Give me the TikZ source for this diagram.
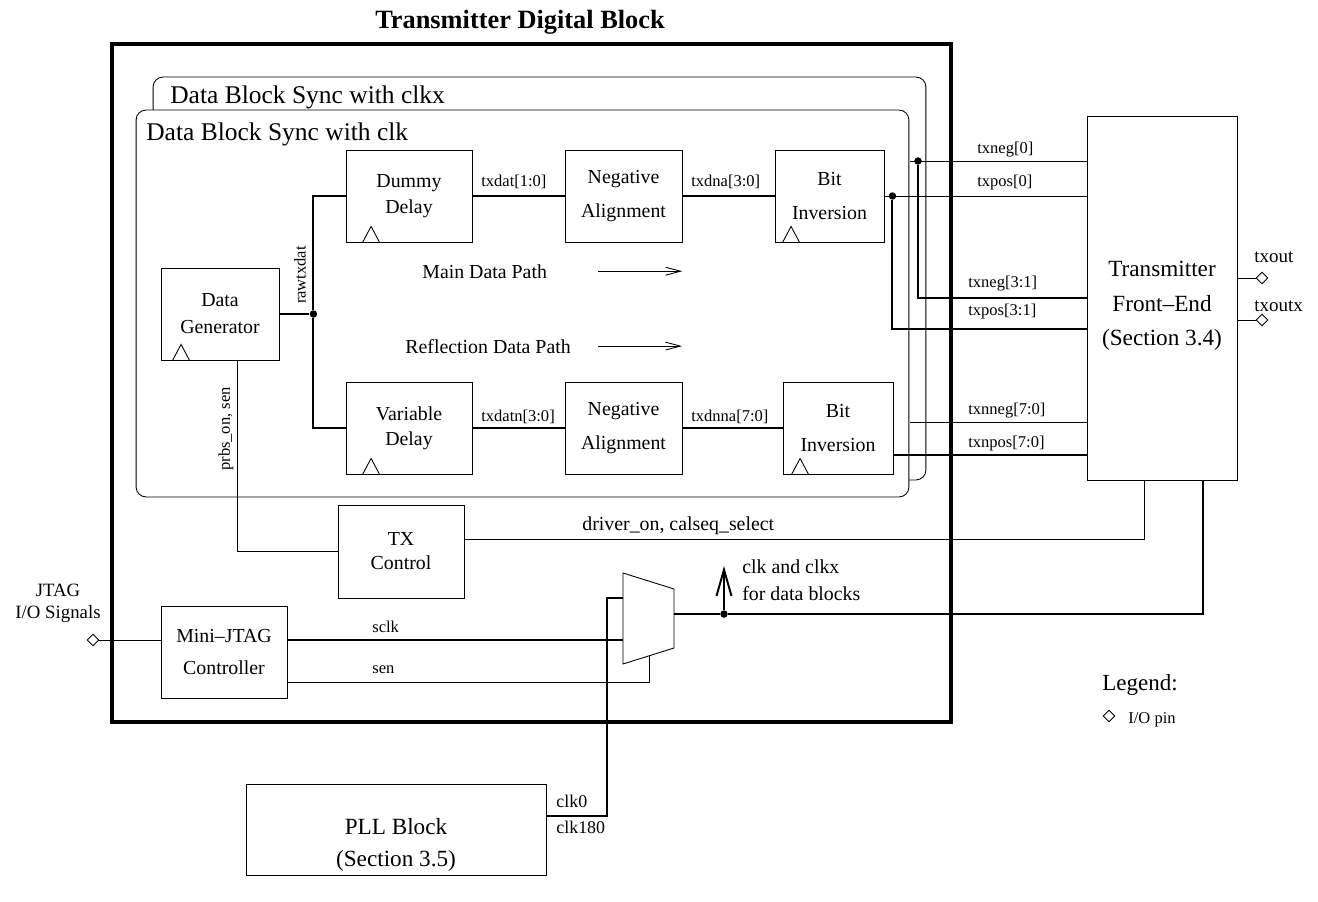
\documentclass[tikz,border=0pt]{standalone}
\usepackage{fontspec}
\setmainfont{Liberation Serif}
\usetikzlibrary{arrows.meta, shapes.geometric}

\begin{document}
\begin{tikzpicture}[x=0.02cm, y=-0.02cm,
  wire/.style={line width=0.5pt},
  bus/.style={line width=1.1pt},
  blk/.style={draw, line width=0.5pt, align=center, inner sep=0pt,
              font=\fontsize{11.3}{#1}\selectfont},
  blk/.default=14.5,
  syncbox/.style={draw, line width=0.5pt, fill=white, rounded corners=0.2cm},
  sig/.style={inner sep=0pt, font=\fontsize{9.4}{11}\selectfont},
  txt/.style={inner sep=0pt, font=\fontsize{11.3}{14}\selectfont},
  dot/.style={circle, fill, inner sep=0pt, minimum size=0.15cm},
  pin/.style={diamond, draw, line width=0.5pt, inner sep=0pt, minimum size=0.24cm},
  flow/.style={wire, -{Straight Barb[length=8.5pt, width=4.5pt]}}]
\useasboundingbox (0,0) rectangle (1318,902);

\node[anchor=base, inner sep=0pt, font=\fontsize{15}{18}\selectfont\bfseries]
      (title) at (520,29) {Transmitter Digital Block};
\node[draw, line width=2pt, minimum width=16.78cm, minimum height=13.56cm]
      (digital) at (531.5,383) {};

% clock domains
\node[syncbox, minimum width=15.46cm, minimum height=8.06cm] (clkxbox) at (539.5,278.5) {};
\node[anchor=base west, inner sep=0pt, font=\fontsize{14.5}{17}\selectfont]
      (clkxlbl) at (170,104) {Data Block Sync with clkx};
\node[syncbox, minimum width=15.46cm, minimum height=7.74cm] (clkbox) at (522.5,303.5) {};
\node[anchor=base west, inner sep=0pt, font=\fontsize{14.5}{17}\selectfont]
      (clklbl) at (146,141) {Data Block Sync with clk};

% blocks
\node[blk, minimum width=2.52cm, minimum height=1.84cm] (dd) at (409,196) {Dummy\\Delay};
\node[blk=19, minimum width=2.34cm, minimum height=1.84cm] (na1) at (623.5,196) {Negative\\Alignment};
\node[blk=19, minimum width=2.18cm, minimum height=1.84cm] (bi1) at (829.5,196) {Bit\\Inversion};
\node[blk=15.3, minimum width=2.36cm, minimum height=1.84cm] (dg) at (220,314) {Data\\Generator};
\node[blk, minimum width=2.52cm, minimum height=1.84cm] (vd) at (409,428) {Variable\\Delay};
\node[blk=19, minimum width=2.34cm, minimum height=1.84cm] (na2) at (623.5,428) {Negative\\Alignment};
\node[blk=19, minimum width=2.2cm, minimum height=1.84cm] (bi2) at (838,428) {Bit\\Inversion};
\node[blk=13.6, minimum width=2.52cm, minimum height=1.86cm] (txc) at (401,551.5) {TX\\Control};
\node[blk=18.7, minimum width=2.52cm, minimum height=1.84cm] (mj) at (224,652) {Mini--JTAG\\Controller};
\node[blk, minimum width=3cm, minimum height=7.28cm] (fe) at (1162,298) {};
\node[txt, align=center, font=\fontsize{13.2}{19.8}\selectfont] (fetext) at (1162,306)
      {Transmitter\\Front--End\\(Section 3.4)};
\node[blk, minimum width=6cm, minimum height=1.82cm] (pll) at (396,829.5) {};
\node[txt, align=center, font=\fontsize{13.2}{18}\selectfont] (plltext) at (396,845)
      {PLL Block\\(Section 3.5)};

\foreach \b/\o in {dd/17, bi1/8, dg/12, vd/17, bi2/9}
  \draw[wire] ([xshift=\o*0.02cm]\b.south west) -- ++(8.5,-16) -- ++(8.5,16);

% data paths
\node[dot] (rj) at ([xshift=0.68cm]dg.east) {};
\draw[bus] (dg.east) -- (rj);
\draw[bus] (dd.west) -| (rj) |- (vd.west);
\node[sig, rotate=90] (rawlbl) at (300,275) {rawtxdat};
\draw[bus] (dd) -- (na1);
\draw[bus] (na1) -- (bi1);
\draw[bus] (vd) -- (na2);
\draw[bus] (na2) -- (bi2);
\node[sig, anchor=base west] at (481,187) {txdat[1:0]};
\node[sig, anchor=base west] at (691,187) {txdna[3:0]};
\node[sig, anchor=base west] at (481,421) {txdatn[3:0]};
\node[sig, anchor=base west] at (691,421) {txdnna[7:0]};

\node[txt, anchor=base west] (mainlbl) at (422,278) {Main Data Path};
\draw[flow] ([xshift=1.02cm]mainlbl.east) -- ++(84,0);
\node[txt, anchor=base west] (refllbl) at (405,353) {Reflection Data Path};
\draw[flow] ([xshift=0.54cm]refllbl.east) -- ++(84,0);

% to front-end
\coordinate (negstub) at (910,161);
\node[dot] (negdot) at (918,161) {};
\draw[wire] (negstub) -- (negstub -| fe.west);
\draw[bus] (negdot) |- (fe.west);
\node[dot] (posdot) at ([xshift=0.16cm]bi1.east) {};
\draw[wire] (bi1.east) -- (bi1.east -| fe.west);
\draw[bus] (posdot) |- ([yshift=-0.62cm]fe.west);
\coordinate (nnegstub) at (910,422);
\draw[wire] (nnegstub) -- (nnegstub -| fe.west);
\draw[bus] ([yshift=-0.54cm]bi2.east) coordinate (nposstub) -- (nposstub -| fe.west);
\node[sig, anchor=base west] at (977,154) {txneg[0]};
\node[sig, anchor=base west] at (977,187) {txpos[0]};
\node[sig, anchor=base west] at (968,287) {txneg[3:1]};
\node[sig, anchor=base west] at (968,315) {txpos[3:1]};
\node[sig, anchor=base west] at (968,414) {txnneg[7:0]};
\node[sig, anchor=base west] at (968,447) {txnpos[7:0]};

\node[pin] (txoutpin) at (1262,278) {};
\node[pin] (txoutxpin) at (1262,320) {};
\draw[wire] (txoutpin.west -| fe.east) -- (txoutpin.west);
\draw[wire] (txoutxpin.west -| fe.east) -- (txoutxpin.west);
\node[anchor=base west, inner sep=0pt, font=\fontsize{10.8}{13}\selectfont] at (1254,262) {txout};
\node[anchor=base west, inner sep=0pt, font=\fontsize{10.8}{13}\selectfont] at (1254,311) {txoutx};

% control
\draw[wire] ([xshift=0.34cm]dg.south) |- (txc.west);
\node[sig, rotate=90] (prbslbl) at (226,429) {prbs\_on, sen};
\draw[wire] ([yshift=0.24cm]txc.east) -| ([xshift=-0.36cm]fe.south);
\node[txt, anchor=base west] (drvlbl) at (582,530) {driver\_on, calseq\_select};

\node[pin] (jtagpin) at (93,640) {};
\node[anchor=base, align=center, inner sep=0pt, font=\fontsize{10.7}{12.5}\selectfont]
      (jtaglbl) at (58,618) {JTAG\\I/O Signals};
\draw[wire] (jtagpin.east) -- (jtagpin.east -| mj.west);

% clock mux
\draw[wire] (623,573) -- (674,589) -- (674,648) -- (623,664) -- cycle;
\coordinate (mxclk) at (623,598);
\coordinate (mxsclk) at (623,640);
\coordinate (mxsel) at (649,656);
\coordinate (mxout) at (674,614);
\draw[bus] (mxsclk -| mj.east) -- (mxsclk);
\node[sig, anchor=base west] at (372,632) {sclk};
\draw[wire] ([yshift=-0.6cm]mj.east) -| (mxsel);
\node[sig, anchor=base west] at (372,673) {sen};
\draw[bus] ([yshift=0.27cm]pll.east) -| ([xshift=-0.32cm]mxclk) -- (mxclk);
\node[anchor=base west, inner sep=0pt, font=\fontsize{10.2}{12}\selectfont] at (556,807) {clk0};
\node[anchor=base west, inner sep=0pt, font=\fontsize{10.2}{12}\selectfont] at (556,833) {clk180};
\node[dot] (clkdot) at ([xshift=1cm]mxout) {};
\draw[bus] (mxout) -- (clkdot) -| ([xshift=0.82cm]fe.south);
\draw[bus, -{Straight Barb[length=15pt, width=8.5pt]}] (clkdot) -- ++(0,-48);
\node[txt, anchor=base west, align=left, font=\fontsize{11.3}{15.3}\selectfont]
      at (742,600) {clk and clkx\\for data blocks};

% legend
\node[anchor=base west, inner sep=0pt, font=\fontsize{13.1}{15}\selectfont] (legend) at (1102,690) {Legend:};
\node[pin] (legpin) at (1109,716) {};
\node[sig, anchor=base west] at (1128,723) {I/O pin};
\end{tikzpicture}
\end{document}
